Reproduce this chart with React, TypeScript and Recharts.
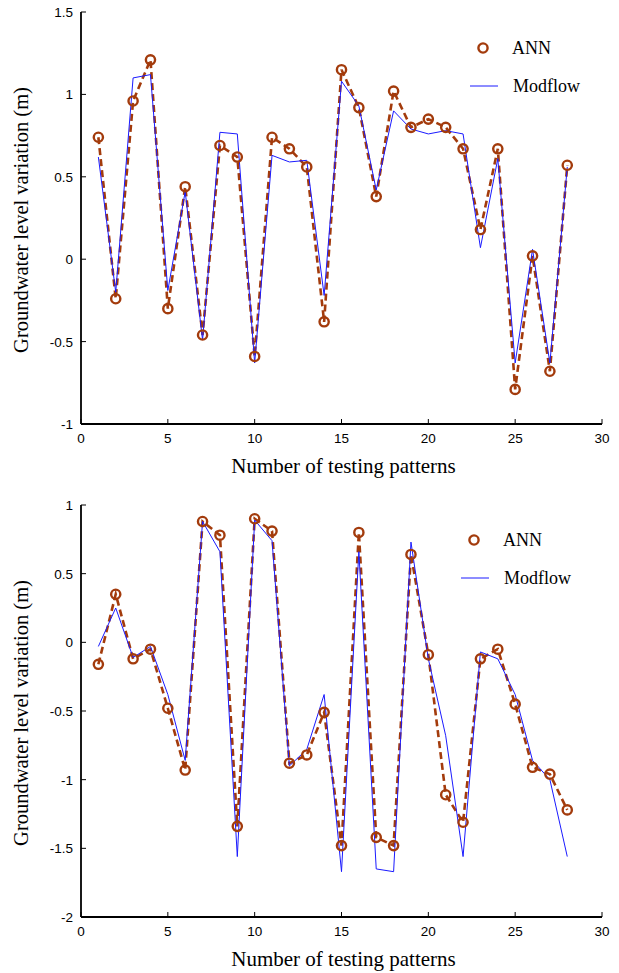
import { LineChart, Line, XAxis, YAxis } from "recharts";

const patterns = [1, 2, 3, 4, 5, 6, 7, 8, 9, 10, 11, 12, 13, 14, 15, 16, 17, 18, 19, 20, 21, 22, 23, 24, 25, 26, 27, 28];

const annTop = [0.74, -0.24, 0.96, 1.21, -0.3, 0.44, -0.46, 0.69, 0.62, -0.59, 0.74, 0.67, 0.56, -0.38,
  1.15, 0.92, 0.38, 1.02, 0.8, 0.85, 0.8, 0.67, 0.18, 0.67, -0.79, 0.02, -0.68, 0.57];
const modflowTop = [0.62, -0.2, 1.1, 1.12, -0.19, 0.41, -0.49, 0.77, 0.76, -0.63, 0.63, 0.59, 0.6, -0.22,
  1.08, 0.93, 0.42, 0.9, 0.79, 0.76, 0.78, 0.76, 0.07, 0.61, -0.63, 0.06, -0.63, 0.56];

const annBottom = [-0.16, 0.35, -0.12, -0.05, -0.48, -0.93, 0.88, 0.78, -1.34, 0.9, 0.81, -0.88, -0.82, -0.51,
  -1.48, 0.8, -1.42, -1.48, 0.64, -0.09, -1.11, -1.31, -0.12, -0.05, -0.45, -0.91, -0.96, -1.22];
const modflowBottom = [-0.03, 0.25, -0.11, -0.03, -0.38, -0.86, 0.88, 0.66, -1.56, 0.89, 0.74, -0.9, -0.78, -0.38,
  -1.67, 0.66, -1.65, -1.67, 0.73, -0.12, -0.68, -1.56, -0.07, -0.12, -0.38, -0.86, -1.0, -1.56];

const xTicks = [0, 5, 10, 15, 20, 25, 30];
const yTicksTop = [-1, -0.5, 0, 0.5, 1, 1.5];
const yTicksBottom = [-2, -1.5, -1, -0.5, 0, 0.5, 1];

const BROWN = "#a33b0c";
const BLUE = "#1a1aff";
const SANS = "Liberation Sans, Arial, sans-serif";
const SERIF = "Liberation Serif, Times New Roman, serif";

const BottomTick = ({ x, y, payload }: any) => (
  <g>
    <line x1={x} y1={y} x2={x} y2={y - 5} stroke="#000" strokeWidth={1} />
    <text x={x} y={y + 19} textAnchor="middle" fontFamily={SANS} fontSize={13.5} fill="#000">{payload.value}</text>
  </g>
);
const TopTick = ({ x, y }: any) => <line x1={x} y1={y} x2={x} y2={y + 5} stroke="#000" strokeWidth={1} />;
const LeftTick = ({ x, y, payload }: any) => (
  <g>
    <line x1={x} y1={y} x2={x + 5} y2={y} stroke="#000" strokeWidth={1} />
    <text x={x - 8} y={y + 5} textAnchor="end" fontFamily={SANS} fontSize={13.5} fill="#000">{payload.value}</text>
  </g>
);
const RightTick = ({ x, y }: any) => <line x1={x} y1={y} x2={x - 5} y2={y} stroke="#000" strokeWidth={1} />;

// plain circle so the line's dash pattern doesn't leak into the markers
const RingDot = ({ cx, cy, index }: any) =>
  cx == null || cy == null ? null : (
    <circle key={index} cx={cx} cy={cy} r={4.6} fill="none" stroke={BROWN} strokeWidth={2.4} />
  );

const LegendBox = ({ left, top }: { left: number; top: number }) => (
  <svg width={120} height={60} style={{ position: "absolute", left, top }}>
    <circle cx={13} cy={10} r={4.6} fill="none" stroke={BROWN} strokeWidth={2.4} />
    <text x={42} y={16} fontFamily={SERIF} fontSize={18} fill="#000">ANN</text>
    <line x1={0} y1={48} x2={28} y2={48} stroke={BLUE} strokeWidth={1} />
    <text x={43} y={54} fontFamily={SERIF} fontSize={18} fill="#000">Modflow</text>
  </svg>
);

function Panel({ ann, modflow, yDomain, yTicks, height, marginTop, legendLeft, legendTop }: any) {
  const data = patterns.map((p, i) => ({ x: p, ann: ann[i], modflow: modflow[i] }));
  return (
    <div style={{ position: "relative", width: 619, height }}>
      <LineChart width={619} height={height} data={data} margin={{ top: marginTop, right: 17, bottom: 0, left: 0 }}>
        <XAxis dataKey="x" type="number" domain={[0, 30]} ticks={xTicks} height={height - marginTop - 412}
          axisLine={{ stroke: "#000", strokeWidth: 1.8 }} tickLine={false} tickSize={0} tickMargin={0}
          tick={<BottomTick />} interval={0}
          label={{
            content: (p: any) => (
              <text x={p.viewBox.x + p.viewBox.width / 2 + 2} y={p.viewBox.y + 49} textAnchor="middle"
                fontFamily={SERIF} fontSize={21} fill="#000">Number of testing patterns</text>
            ),
          }} />
        <XAxis xAxisId="t" orientation="top" dataKey="x" type="number" domain={[0, 30]} ticks={xTicks} height={0}
          axisLine={{ stroke: "#000", strokeWidth: 1.8 }} tickLine={false} tickSize={0} tickMargin={0}
          tick={<TopTick />} interval={0} />
        <YAxis type="number" domain={yDomain} ticks={yTicks} width={81} interval={0}
          axisLine={{ stroke: "#000", strokeWidth: 1.8 }} tickLine={false} tickSize={0} tickMargin={0}
          tick={<LeftTick />}
          label={{
            content: (p: any) => {
              const cy = p.viewBox.y + p.viewBox.height / 2 + 2;
              return (
                <text x={28} y={cy} transform={`rotate(-90 28 ${cy})`} textAnchor="middle"
                  fontFamily={SERIF} fontSize={20.5} fill="#000">Groundwater level variation (m)</text>
              );
            },
          }} />
        <YAxis yAxisId="r" orientation="right" type="number" domain={yDomain} ticks={yTicks} width={0} interval={0}
          axisLine={{ stroke: "#000", strokeWidth: 1.8 }} tickLine={false} tickSize={0} tickMargin={0}
          tick={<RightTick />} />
        <Line xAxisId="t" yAxisId="r" dataKey="ann" stroke="none" dot={false} isAnimationActive={false} legendType="none" />
        <Line dataKey="ann" stroke={BROWN} strokeWidth={2.6} strokeDasharray="7 4"
          dot={<RingDot />} isAnimationActive={false} />
        <Line dataKey="modflow" stroke={BLUE} strokeWidth={1} dot={false} isAnimationActive={false} />
      </LineChart>
      <LegendBox left={legendLeft} top={legendTop} />
    </div>
  );
}

export default function App() {
  return (
    <div style={{ position: "absolute", left: 0, top: 0, width: 619, height: 973, background: "#fff" }}>
      <Panel ann={annTop} modflow={modflowTop} yDomain={[-1, 1.5]} yTicks={yTicksTop}
        height={490} marginTop={12} legendLeft={470} legendTop={38} />
      <Panel ann={annBottom} modflow={modflowBottom} yDomain={[-2, 1]} yTicks={yTicksBottom}
        height={483} marginTop={15} legendLeft={461} legendTop={40} />
    </div>
  );
}
